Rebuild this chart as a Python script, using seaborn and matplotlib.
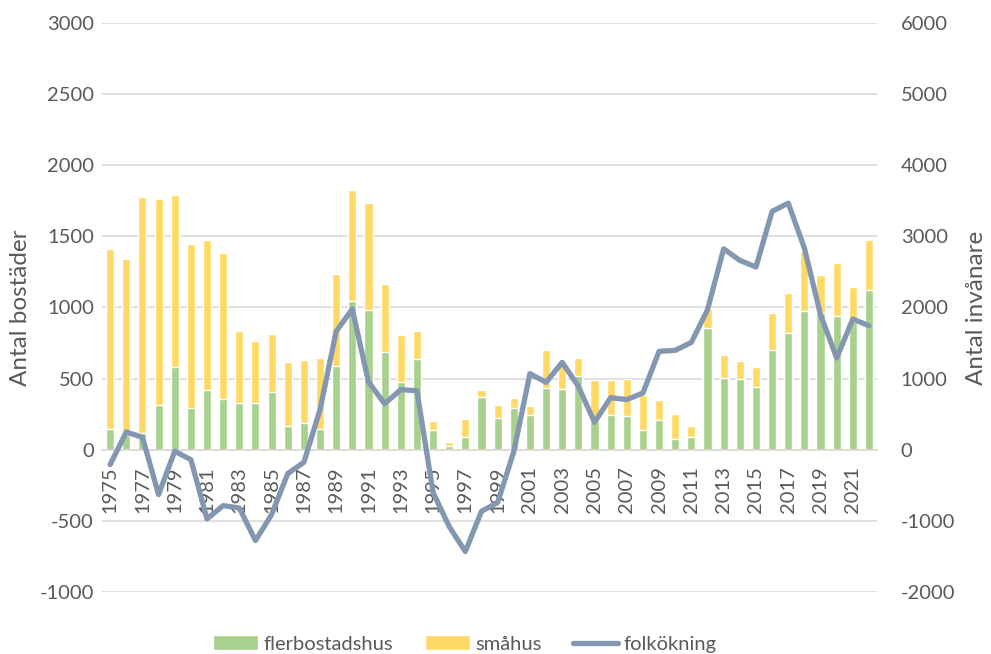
import numpy as np
import pandas as pd
import matplotlib.pyplot as plt
import seaborn as sns

years = list(range(1975, 2023))
flerbostadshus = [148, 100, 117, 314, 584, 293, 418, 357, 331, 329, 406, 164,
                  190, 146, 587, 1044, 979, 683, 476, 634, 138, 23, 89, 368,
                  223, 291, 242, 430, 427, 521, 200, 244, 237, 141, 211, 77,
                  87, 854, 502, 498, 437, 697, 821, 974, 960, 939, 900, 1120]
totalt = [1408, 1338, 1779, 1765, 1793, 1443, 1472, 1382, 831, 767, 812, 615,
          631, 645, 1235, 1824, 1732, 1162, 805, 831, 202, 54, 218, 422,
          317, 366, 310, 697, 610, 645, 490, 490, 498, 387, 347, 253,
          164, 990, 667, 622, 582, 958, 1103, 1396, 1230, 1310, 1145, 1474]
folkokning = [-210, 248, 173, -632, -23, -141, -974, -787, -820, -1279, -913, -337,
              -178, 562, 1663, 1977, 951, 646, 843, 829, -600, -1082, -1433, -867,
              -745, -30, 1068, 946, 1227, 890, 384, 731, 703, 796, 1382, 1396,
              1508, 1967, 2824, 2661, 2567, 3349, 3466, 2834, 1897, 1288, 1836, 1742]

df = pd.DataFrame({"year": [str(y) for y in years],
                   "fler": flerbostadshus, "tot": totalt, "folk": folkokning})
df["pos"] = np.arange(len(df))

sns.set_style("white")
plt.rcParams['font.family'] = ['Lato', 'DejaVu Sans']
plt.rcParams['axes.unicode_minus'] = False
txt = "#595959"

fig = plt.figure(figsize=(9.91, 6.54), dpi=100)
ax = fig.add_axes([0.103, 0.095, 0.782, 0.87])

sns.barplot(data=df, x="year", y="tot", color="#FFD966", width=0.5,
            saturation=1, ax=ax, label="småhus")
sns.barplot(data=df, x="year", y="fler", color="#A9D18E", width=0.5,
            saturation=1, ax=ax, label="flerbostadshus")
if ax.get_legend() is not None:
    ax.get_legend().remove()

ax.set_ylim(-1000, 3000)
ax.set_yticks(np.arange(-1000, 3001, 500))
ax.set_xlim(-0.5, len(df) - 0.5)
ax.grid(axis="y", color="#D9D9D9", linewidth=1.2)
ax.set_axisbelow(True)
for s in ["top", "left", "right"]:
    ax.spines[s].set_visible(False)
ax.spines["bottom"].set_position(("data", 0))
ax.spines["bottom"].set_color("#D9D9D9")
ax.spines["bottom"].set_linewidth(1.2)
ax.set_xticks(df["pos"][::2])
ax.set_xticklabels(df["year"][::2], rotation=90)
ax.tick_params(axis="x", length=0, pad=12, labelsize=14.5, labelcolor=txt)
ax.tick_params(axis="y", length=0, pad=6, labelsize=14.5, labelcolor=txt)
ax.set_xlabel("")
ax.set_ylabel("Antal bostäder", fontsize=17.5, color=txt, labelpad=6)

ax2 = ax.twinx()
sns.lineplot(data=df, x="pos", y="folk", color="#8497B0", linewidth=3.8,
             ax=ax2, label="folkökning", legend=False)
ax2.set_ylim(-2000, 6000)
ax2.set_yticks(np.arange(-2000, 6001, 1000))
for s in ax2.spines.values():
    s.set_visible(False)
ax2.tick_params(axis="y", length=0, pad=17, labelsize=14.5, labelcolor=txt)
ax2.set_ylabel("Antal invånare", fontsize=17.5, color=txt, labelpad=8)
ax2.set_xlim(-0.5, len(df) - 0.5)

h1, l1 = ax.get_legend_handles_labels()
h2, l2 = ax2.get_legend_handles_labels()
handles = [h1[1], h1[0], h2[0]]
labels = [l1[1], l1[0], l2[0]]
fig.legend(handles, labels, loc="center", bbox_to_anchor=(0.469, 0.015), ncol=3,
           frameon=False, fontsize=14.5, labelcolor=txt, handlelength=2.25,
           handleheight=0.75, columnspacing=1.55, handletextpad=0.26)

fig.savefig("out.png", dpi=100)
